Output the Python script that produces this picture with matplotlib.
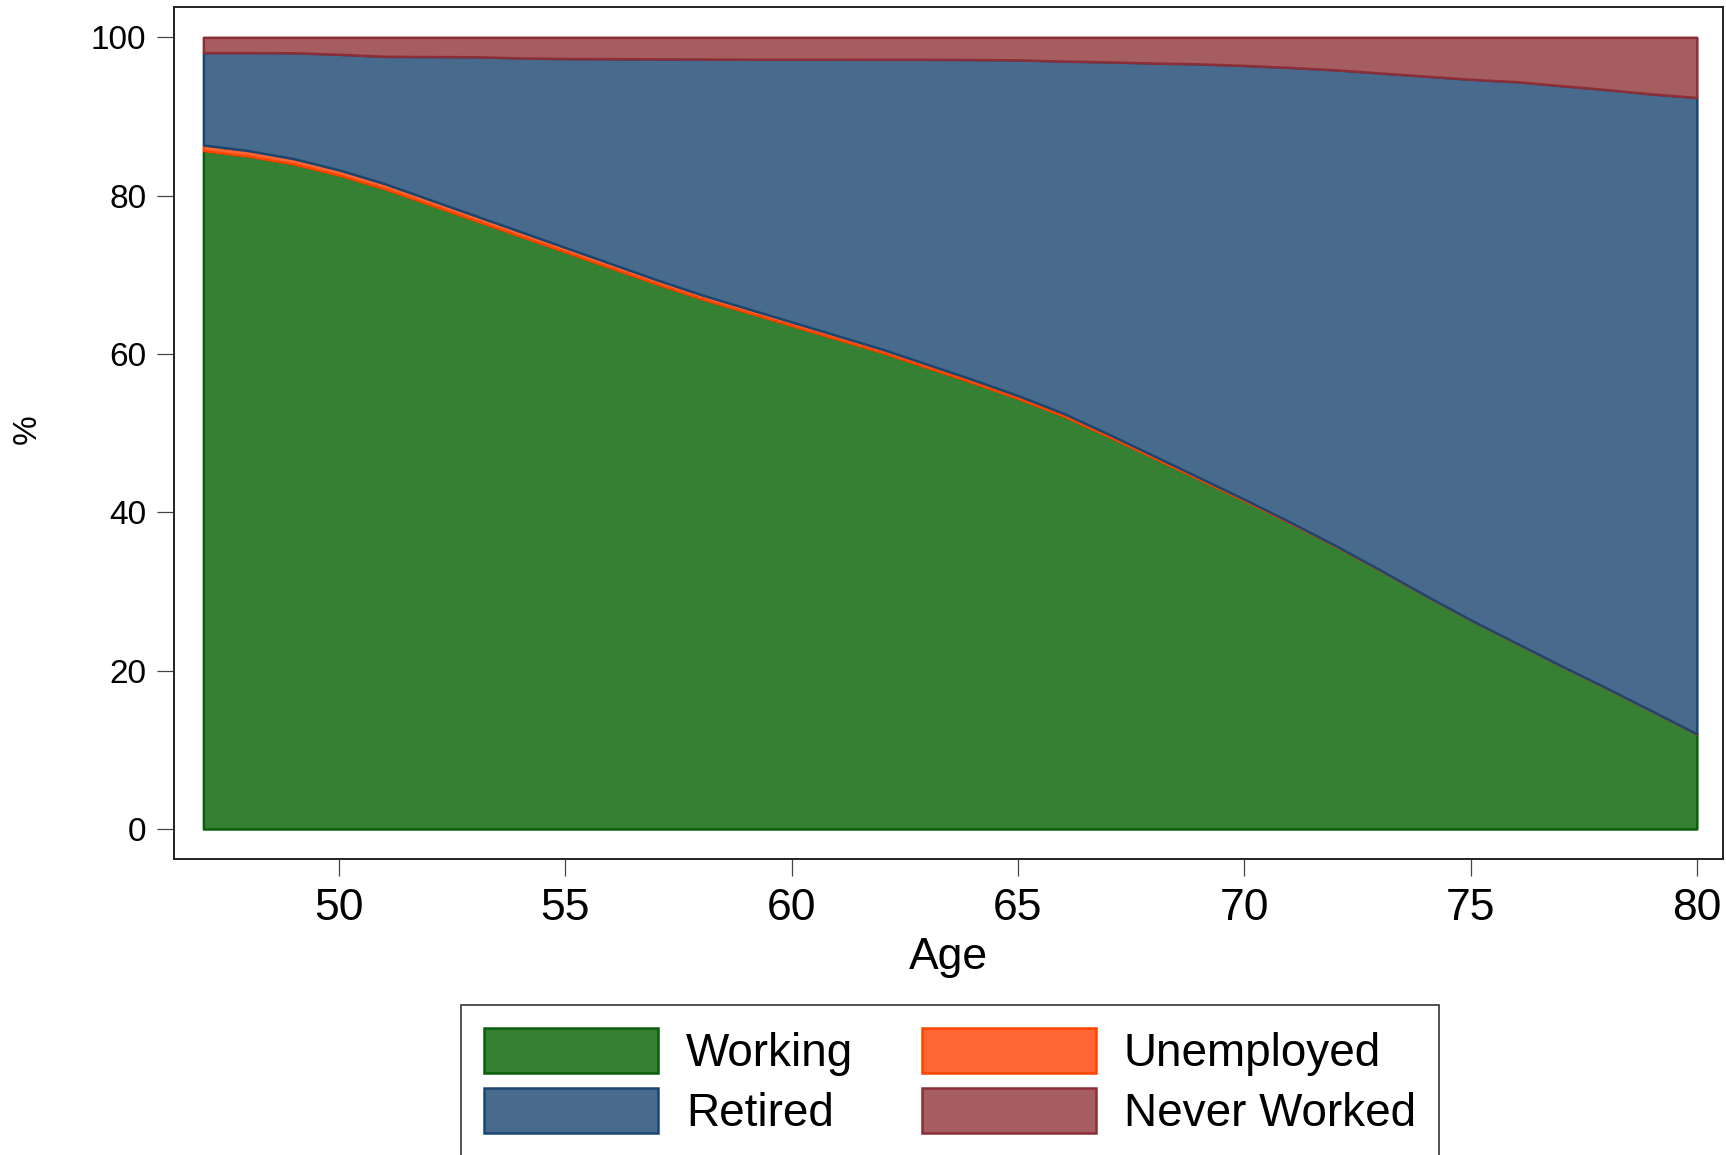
import numpy as np
import matplotlib
matplotlib.use("Agg")
import matplotlib.pyplot as plt

plt.rcParams['font.family'] = ['Liberation Sans', 'DejaVu Sans']

# shares by age, percent
age = np.arange(47, 81)
working = [85.7, 85.0, 84.0, 82.6, 80.9, 78.9, 76.9, 74.9, 72.9, 70.9,
           68.9, 67.0, 65.3, 63.6, 61.9, 60.2, 58.3, 56.4, 54.4, 52.2,
           49.6, 46.9, 44.2, 41.5, 38.7, 35.8, 32.7, 29.5, 26.4, 23.5,
           20.6, 17.8, 14.9, 12.0]
unemployed = [0.70, 0.69, 0.67, 0.65, 0.63, 0.61, 0.59, 0.57, 0.55, 0.53,
              0.51, 0.49, 0.47, 0.45, 0.43, 0.41, 0.39, 0.37, 0.35, 0.32,
              0.28, 0.25, 0.20, 0.15, 0.10, 0.05, 0.03, 0.02, 0.02, 0.02,
              0.02, 0.02, 0.02, 0.02]
never_worked = [1.93, 1.93, 1.95, 2.14, 2.40, 2.43, 2.45, 2.60, 2.68, 2.70,
                2.72, 2.74, 2.77, 2.77, 2.77, 2.78, 2.78, 2.80, 2.85, 3.00,
                3.10, 3.25, 3.35, 3.55, 3.80, 4.10, 4.50, 4.90, 5.30, 5.60,
                6.10, 6.60, 7.15, 7.60]

working = np.array(working)
unemployed = np.array(unemployed)
never_worked = np.array(never_worked)
retired = 100 - working - unemployed - never_worked

labels = ["Working", "Retired", "Unemployed", "Never Worked"]

fig = plt.figure(figsize=(17.26, 11.55), dpi=100)
ax = fig.add_axes([0.1008, 0.2563, 0.8975, 0.7377])

lw = 1.8
b0 = np.zeros_like(working)
b1 = working
b2 = b1 + unemployed
b3 = b2 + retired
b4 = b3 + never_worked

h_work = ax.fill_between(age, b0, b1, facecolor="#368033", edgecolor="#0b5e0b", linewidth=lw)
h_unemp = ax.fill_between(age, b1, b2, facecolor="#ff6633", edgecolor="#ff4400", linewidth=lw)
h_ret = ax.fill_between(age, b2, b3, facecolor="#486a8c", edgecolor="#1a4670", linewidth=lw)
h_nw = ax.fill_between(age, b3, b4, facecolor="#a55d60", edgecolor="#8c2e37", linewidth=lw)

ax.set_xlim(46.35, 80.58)
ax.set_ylim(-3.79, 103.84)
ax.set_xticks([50, 55, 60, 65, 70, 75, 80])
ax.set_yticks([0, 20, 40, 60, 80, 100])

for s in ax.spines.values():
    s.set_linewidth(1.4)
    s.set_color("#222222")

ax.tick_params(axis="x", length=12, width=0.9, color="#444444", pad=9, labelsize=32)
ax.tick_params(axis="y", length=12, width=0.9, color="#444444", pad=8, labelsize=24)

ax.set_xlabel("Age", fontsize=32)
ax.xaxis.set_label_coords(0.5, -0.116)
ax.xaxis.label.set_va("center")
ax.set_ylabel("%", fontsize=24)
ax.yaxis.set_label_coords(-0.0946, 0.505)
ax.yaxis.label.set_va("center")

leg = fig.legend([h_work, h_ret, h_unemp, h_nw], labels, ncol=2,
                 loc="upper center", bbox_to_anchor=(0.5504, 0.1299),
                 fontsize=33, handlelength=3.8, handleheight=1.15,
                 handletextpad=0.6, columnspacing=1.5, labelspacing=0.25,
                 borderpad=0.5, fancybox=False, framealpha=1, borderaxespad=0)
leg.get_frame().set_edgecolor("#333333")
leg.get_frame().set_linewidth(1.2)

fig.savefig("out.png", dpi=100)
